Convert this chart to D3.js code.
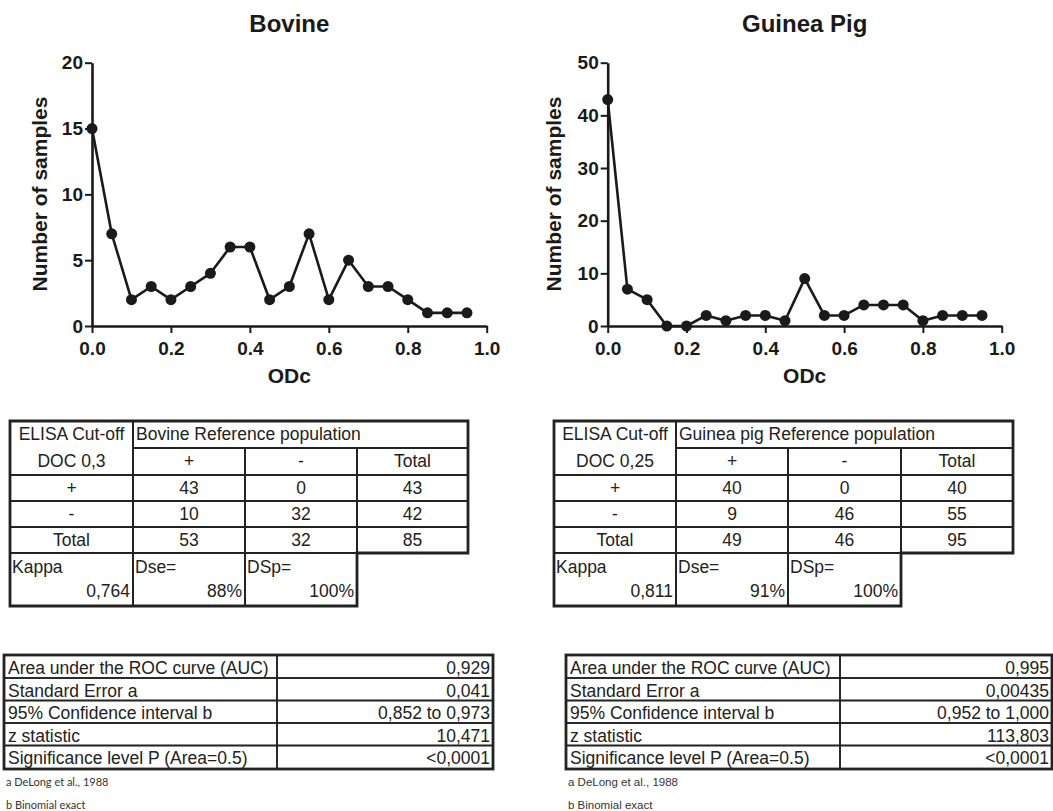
<!DOCTYPE html>
<html>
<head>
<meta charset="utf-8">
<script src="https://cdn.jsdelivr.net/npm/d3@7/dist/d3.min.js"></script>
<style>
  body { margin: 0; background: #fff; }
  svg text { font-family: Arial, "Liberation Sans", sans-serif; }
</style>
</head>
<body>
<svg id="fig" width="1053" height="811"></svg>
<script>
'use strict';

// ---- data ----
const odcBins      = [0, 0.05, 0.1, 0.15, 0.2, 0.25, 0.3, 0.35, 0.4, 0.45, 0.5, 0.55, 0.6, 0.65, 0.7, 0.75, 0.8, 0.85, 0.9, 0.95];
const bovineCounts = [15, 7, 2, 3, 2, 3, 4, 6, 6, 2, 3, 7, 2, 5, 3, 3, 2, 1, 1, 1];
const guineaCounts = [43, 7, 5, 0, 0, 2, 1, 2, 2, 1, 9, 2, 2, 4, 4, 4, 1, 2, 2, 2];

const xTickValues      = [0, 0.2, 0.4, 0.6, 0.8, 1.0];
const bovineYTicks     = [0, 5, 10, 15, 20];
const guineaYTicks     = [0, 10, 20, 30, 40, 50];

// contingency tables
const colHeads       = ["+", "-", "Total"];
const bovineCutoff   = ["ELISA Cut-off", "DOC 0,3"];
const bovinePopTitle = "Bovine Reference population";
const bovineRows     = [["+", "43", "0", "43"], ["-", "10", "32", "42"], ["Total", "53", "32", "85"]];
const bovineStats    = [["Kappa", "0,764"], ["Dse=", "88%"], ["DSp=", "100%"]];

const guineaCutoff   = ["ELISA Cut-off", "DOC 0,25"];
const guineaPopTitle = "Guinea pig Reference population";
const guineaRows     = [["+", "40", "0", "40"], ["-", "9", "46", "55"], ["Total", "49", "46", "95"]];
const guineaStats    = [["Kappa", "0,811"], ["Dse=", "91%"], ["DSp=", "100%"]];

// ROC tables
const rocLabels   = ["Area under the ROC curve (AUC)", "Standard Error a", "95% Confidence interval b", "z statistic", "Significance level P (Area=0.5)"];
const bovineRoc   = ["0,929", "0,041", "0,852 to 0,973", "10,471", "<0,0001"];
const guineaRoc   = ["0,995", "0,00435", "0,952 to 1,000", "113,803", "<0,0001"];
const footnotes   = ["a DeLong et al., 1988", "b Binomial exact"];

const svg = d3.select("#fig");
const ink = "#1a1a1a";
const tableInk = "#222";

// ---- line charts ----
function drawPanel(opts) {
  const x = d3.scaleLinear().domain([0, 1]).range([opts.left, opts.right]);
  const y = d3.scaleLinear().domain([0, opts.yMax]).range([326, 62.7]);
  const g = svg.append("g");

  g.append("text")
    .attr("x", (opts.left + opts.right) / 2).attr("y", 32)
    .attr("text-anchor", "middle")
    .style("font-size", "24px").style("font-weight", "bold").attr("fill", ink)
    .text(opts.title);

  const xAxis = d3.axisBottom(x).tickValues(xTickValues).tickFormat(d3.format(".1f"))
    .tickSize(7).tickSizeOuter(0).tickPadding(9);
  const yAxis = d3.axisLeft(y).tickValues(opts.yTicks)
    .tickSize(7).tickSizeOuter(0).tickPadding(2);

  const gx = g.append("g").attr("transform", "translate(0,326)").call(xAxis);
  const gy = g.append("g").attr("transform", "translate(" + opts.left + ",0)").call(yAxis);

  [gx, gy].forEach(function(a) {
    a.select(".domain").attr("stroke", ink).attr("stroke-width", 2.6);
    a.selectAll(".tick line").attr("stroke", ink).attr("stroke-width", 2);
    a.selectAll(".tick text").attr("fill", ink)
      .style("font-size", "19px").style("font-weight", "bold")
      .style("font-family", "Arial, 'Liberation Sans', sans-serif");
  });

  g.append("text")
    .attr("x", (opts.left + opts.right) / 2).attr("y", 383)
    .attr("text-anchor", "middle")
    .style("font-size", "21px").style("font-weight", "bold").attr("fill", ink)
    .text("ODc");

  g.append("text")
    .attr("transform", "translate(" + opts.yLabelX + ",194) rotate(-90)")
    .attr("text-anchor", "middle")
    .style("font-size", "21px").style("font-weight", "bold").attr("fill", ink)
    .text("Number of samples");

  const pts = odcBins.map(function(b, i) { return [b, opts.counts[i]]; });
  const line = d3.line().x(function(d) { return x(d[0]); }).y(function(d) { return y(d[1]); });

  g.append("path").datum(pts)
    .attr("fill", "none").attr("stroke", ink).attr("stroke-width", 2.6)
    .attr("stroke-linejoin", "round")
    .attr("d", line);

  g.selectAll("circle.pt").data(pts).enter().append("circle")
    .attr("class", "pt")
    .attr("cx", function(d) { return x(d[0]); })
    .attr("cy", function(d) { return y(d[1]); })
    .attr("r", 5.5)
    .attr("fill", ink);
}

drawPanel({ title: "Bovine", left: 92, right: 486.7, yMax: 20, yTicks: bovineYTicks, counts: bovineCounts, yLabelX: 47 });
drawPanel({ title: "Guinea Pig", left: 607.7, right: 1001.7, yMax: 50, yTicks: guineaYTicks, counts: guineaCounts, yLabelX: 561 });

// ---- helpers for tables ----
function cellText(g, x, y, txt, anchor) {
  g.append("text").attr("x", x).attr("y", y)
    .attr("text-anchor", anchor || "middle")
    .attr("fill", tableInk).style("font-size", "17.5px")
    .text(txt);
}
function box(g, x0, y0, x1, y1, w) {
  g.append("rect").attr("x", x0).attr("y", y0)
    .attr("width", x1 - x0).attr("height", y1 - y0)
    .attr("fill", "none").attr("stroke", tableInk).attr("stroke-width", w);
}

// contingency table: cols = x edges, rows = y edges
function drawContingency(cols, cutoff, popTitle, rows, stats) {
  const r = [421, 448, 475, 501, 527, 553, 606];
  const g = svg.append("g");
  // inner grid
  box(g, cols[0], r[0], cols[1], r[2], 1.8);
  box(g, cols[1], r[0], cols[4], r[1], 1.8);
  for (let c = 1; c < 4; c++) box(g, cols[c], r[1], cols[c + 1], r[2], 1.8);
  for (let i = 0; i < 3; i++)
    for (let c = 0; c < 4; c++) box(g, cols[c], r[2 + i], cols[c + 1], r[3 + i], 1.8);
  for (let c = 0; c < 3; c++) box(g, cols[c], r[5], cols[c + 1], r[6], 1.8);
  // heavy outline
  g.append("path")
    .attr("d", "M" + cols[0] + "," + r[0] + "H" + cols[4] + "V" + r[5] + "H" + cols[3] +
               "V" + r[6] + "H" + cols[0] + "Z")
    .attr("fill", "none").attr("stroke", tableInk).attr("stroke-width", 2.8);

  const mid = function(c) { return (cols[c] + cols[c + 1]) / 2; };
  cellText(g, mid(0), 440, cutoff[0]);
  cellText(g, mid(0), 467, cutoff[1]);
  cellText(g, cols[1] + 3, 440, popTitle, "start");
  colHeads.forEach(function(h, i) { cellText(g, mid(i + 1), 467, h); });
  rows.forEach(function(row, i) {
    row.forEach(function(v, c) { cellText(g, mid(c), 494 + i * 26.2, v); });
  });
  stats.forEach(function(s, c) {
    cellText(g, cols[c] + 2, 573, s[0], "start");
    cellText(g, cols[c + 1] - 3, 597, s[1], "end");
  });
}

drawContingency([10, 133, 245, 357, 468], bovineCutoff, bovinePopTitle, bovineRows, bovineStats);
drawContingency([554, 676, 788, 901, 1013], guineaCutoff, guineaPopTitle, guineaRows, guineaStats);

// ---- ROC summary tables ----
function drawRoc(cols, values, footFont) {
  const r = [655, 678, 700.5, 723, 745.5, 769];
  const g = svg.append("g");
  for (let i = 0; i < 5; i++) {
    box(g, cols[0], r[i], cols[1], r[i + 1], 1.6);
    box(g, cols[1], r[i], cols[2], r[i + 1], 1.6);
    cellText(g, cols[0] + 4, r[i] + 18.5, rocLabels[i], "start");
    cellText(g, cols[2] - 3, r[i] + 18.5, values[i], "end");
  }
  box(g, cols[0], r[0], cols[2], r[5], 2.8);

  footnotes.forEach(function(f, i) {
    g.append("text").attr("x", cols[0] + 2).attr("y", 786 + i * 22.5)
      .attr("fill", "#333").style("font-size", footFont.size).style("font-family", footFont.family)
      .text(f);
  });
}

drawRoc([4, 277, 493], bovineRoc, { size: "11px", family: "Lato, 'Open Sans', sans-serif" });
drawRoc([566, 840, 1052], guineaRoc, { size: "11.5px", family: "Arial, 'Liberation Sans', sans-serif" });
</script>
</body>
</html>
